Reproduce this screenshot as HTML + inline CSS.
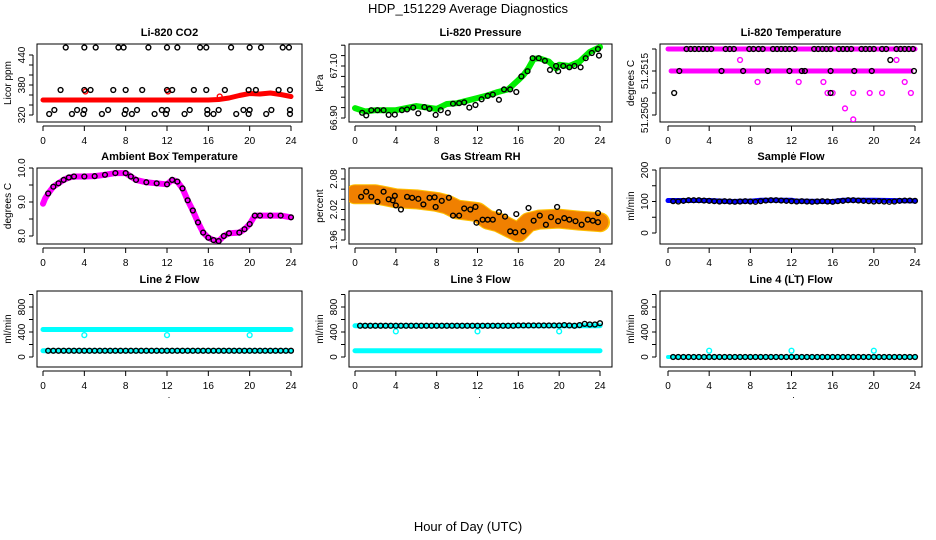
<!DOCTYPE html>
<html><head><meta charset="utf-8"><style>
html,body{margin:0;padding:0;background:#fff;}
svg{display:block;font-family:"Liberation Sans",sans-serif;}
</style></head><body>
<svg id="fig" width="936" height="540" viewBox="0 0 936 540">
<rect width="936" height="540" fill="#fff"/>
<text x="468" y="13" text-anchor="middle" font-size="13">HDP_151229  Average Diagnostics</text>
<text x="468" y="531" text-anchor="middle" font-size="13">Hour of Day (UTC)</text>
</svg>
<script>
// ---- data ----
const xTicks=[0,4,8,12,16,20,24];
// CO2
const co2Hours=[0,4,8,12,16,17,18,19,20,21,22,23,24];
const co2Vals=[350,350,350,350,350,351,354,359,363,362,364,361,357];
const co2BlackH=[2.2,4,5.1,7.3,7.8,10.2,12,13,15.2,15.8,18.2,20,21.1,23.2,23.8,1.7,4,4.6,6.8,8,9.6,12,12.5,14.6,15.8,17.6,19.9,20.6,22.8,23.9,1.1,3.3,4,6.3,8,9.1,11.5,12,14.2,15.9,17,19.4,20,22.1,23.9,0.6,2.8,3.9,5.7,7.9,8.6,10.8,11.9,13.7,15.9,16.5,18.7,19.9,21.6,23.9];
const co2BlackV=[455,455,455,455,455,455,455,455,455,455,455,455,455,455,455,370,370,370,370,370,370,370,370,370,370,370,370,370,370,370,330,330,330,330,330,330,330,330,330,330,330,330,330,330,330,322,322,322,322,322,322,322,322,322,322,322,322,322,322,322];
const co2RedH=[4.1,12.1,17.1];
const co2RedV=[367,367,357];
// Pressure
const presHours=[0,1,2,4,6,8,9,10,12,13,14,15,16,16.5,17,17.5,18,19,19.7,20,21,22,23,24];
const presVals=[66.938,66.925,66.93,66.93,66.946,66.935,66.954,66.957,66.977,66.987,67.0,67.01,67.046,67.065,67.092,67.127,67.13,67.117,67.09,67.105,67.1,67.117,67.154,67.173];
const presBlackH=[0.7,1.1,1.6,2.2,2.8,3.3,3.9,4.6,5.1,5.7,6.2,6.8,7.3,7.9,8.4,9.1,9.6,10.2,10.7,11.2,11.8,12.4,13,13.5,14.1,14.6,15.2,15.8,16.3,16.9,17.4,18,18.6,19.1,19.7,19.9,20.4,21,21.5,22.1,22.6,23.2,23.8,23.9];
const presBlackV=[66.92,66.91,66.93,66.93,66.93,66.912,66.913,66.93,66.933,66.94,66.918,66.942,66.935,66.912,66.93,66.92,66.955,66.957,66.96,66.94,66.95,66.972,66.985,66.99,66.97,67.01,67.01,67.0,67.06,67.08,67.13,67.13,67.12,67.085,67.1,67.08,67.1,67.095,67.1,67.095,67.13,67.15,67.165,67.14];
// Li-820 temperature
const tempPinkRowV=[51.2520,51.2515];
const tempPinkRowStart=[0,0.3];
const tempPinkRowEnd=[24,23.6];
const tempPinkH=[7,22.2,8.7,12.7,15.1,23,15.5,16,18,19.6,20.8,23.6,17.2,18];
const tempPinkV=[51.25175,51.25175,51.25125,51.25125,51.25125,51.25125,51.251,51.251,51.251,51.251,51.251,51.251,51.25065,51.2504];
const tempBlackTopH=[1.8,2.2,2.6,3,3.4,3.8,4.2,5.6,6,6.4,7.9,8.3,8.8,9.2,10.2,10.6,11,11.4,11.8,12.3,14.2,14.6,15,15.4,15.8,16.6,17,17.4,17.8,18.8,19.2,19.6,20,20.8,21.2,22.2,22.6,23,23.4,23.8];
const tempBlackMidH=[1.1,5.2,7.3,9.7,11.8,13,13.3,15.8,18.1,19.8,23.9];
const tempBlackOddH=[0.6,15.8,21.6];
const tempBlackOddV=[51.251,51.251,51.25175];
// Ambient box temperature
const ambHours=[0,0.2,0.5,1,1.5,2,2.5,3,4,5,6,7,8,8.5,9,10,11,12,12.5,13,13.5,14,14.5,15,15.5,16,16.5,17,17.5,18,19,19.5,20,20.5,21,22,23,24];
const ambVals=[8.95,9.1,9.25,9.45,9.55,9.65,9.72,9.75,9.75,9.76,9.8,9.85,9.85,9.75,9.65,9.58,9.55,9.52,9.65,9.6,9.4,9.05,8.75,8.4,8.1,7.95,7.88,7.85,8.0,8.08,8.1,8.2,8.35,8.6,8.6,8.6,8.6,8.55];
// Gas stream RH
const rhHours=[0,2,4,6,8,9,10,12,13,14,15,16,16.5,17,18,20,22,24];
const rhVals=[2.05,2.05,2.042,2.04,2.035,2.03,2.02,2.015,2.0,1.995,1.985,1.975,1.985,1.995,2.0,2.002,1.998,1.995];
const rhBlackH=[0.6,1.1,1.6,2.2,2.8,3.3,3.7,3.9,4,4.5,5.1,5.6,6.2,6.7,7.3,7.8,7.9,8.5,9.2,9.6,10.2,10.7,11.3,11.8,11.9,12.5,13,13.5,14.1,14.7,15.2,15.7,15.8,16.5,17,17.5,18.1,18.7,19.2,19.8,19.9,20.5,21,21.6,22.2,22.8,23.3,23.8,23.8];
const rhBlackV=[2.045,2.055,2.045,2.035,2.055,2.04,2.038,2.047,2.028,2.02,2.045,2.043,2.041,2.03,2.043,2.044,2.025,2.037,2.043,2.008,2.008,2.022,2.02,2.025,1.994,2.0,2.0,2.0,2.015,2.006,1.977,1.975,2.011,1.977,2.023,1.998,2.008,1.99,2.005,2.025,1.997,2.003,2.0,1.997,1.99,2.0,1.998,1.995,2.013];
// Sample flow
const sampHours=[0,4,6,8,9,12,12.5,16,17,20,24];
const sampVals=[103,103,100,101,104,104,101,100,104,104,102];
const sampBlack=[101,100,102,104,104,104,103,102,101,100,101,100,99,100,101,100,99,101,103,104,104,103,102,101,100,101,100,99,100,101,100,99,101,102,104,104,103,102,101,100,101,100,99,100,102,103,103,102];
// Line flows
const l2Cyan=[440,100];
const l2Black=[100,100,100,100,100,100,100,100,100,100,100,100,100,100,100,100,100,100,100,100,100,100,100,100,100,100,100,100,100,100,100,100,100,100,100,100,100,100,100,100,100,100,100,100,100,100,100,100];
const l2OutH=[4,12,20];
const l2OutV=[350,350,350];
const l3Cyan=[100,500];
const l3Black=[500,500,500,500,500,500,500,500,500,500,500,500,500,500,500,500,500,500,500,500,500,500,500,500,500,500,500,500,500,500,500,505,505,505,505,505,505,505,505,505,510,505,500,510,530,520,520,540];
const l3OutH=[4,12,20];
const l3OutV=[410,410,410];
const l4Cyan=[0];
const l4Black=[0,0,0,0,0,0,0,0,0,0,0,0,0,0,0,0,0,0,0,0,0,0,0,0,0,0,0,0,0,0,0,0,0,0,0,0,0,0,0,0,0,0,0,0,0,0,0,0];
const l4OutH=[4,12,20];
const l4OutV=[100,100,100];
// y-axis ticks / labels
const co2Ticks=[320,340,360,380,400,420,440], co2Labels=[320,380,440];
const presTicks=[66.90,66.94,66.98,67.02,67.06,67.10,67.14,67.18], presLabels=["66.90","67.10"], presLabelV=[66.90,67.10];
const tempTicks=[51.2505,51.2510,51.2515,51.2520], tempLabels=["51.2505","51.2515"], tempLabelV=[51.2505,51.2515];
const ambTicks=[8,8.5,9,9.5,10], ambLabels=["8.0","9.0","10.0"], ambLabelV=[8,9,10];
const rhTicks=[1.96,1.98,2.00,2.02,2.04,2.06,2.08,2.10], rhLabels=["1.96","2.02","2.08"], rhLabelV=[1.96,2.02,2.08];
const sampTicks=[0,50,100,150,200], sampLabels=[0,100,200];
const flowTicks=[0,200,400,600,800,1000], flowLabels=[0,400,800];

// ---- layout ----
const NS="http://www.w3.org/2000/svg";
const svg=document.getElementById('fig');
const cols=[{ax:33,x0:43,x24:291,right:302},{ax:345,x0:355,x24:600,right:612},{ax:656,x0:668,x24:915,right:922}];
const rows=[{top:44,bot:122},{top:168,bot:244},{top:291,bot:367}];
function mk(tag,attrs,parent){const e=document.createElementNS(NS,tag);for(const k in attrs)e.setAttribute(k,attrs[k]);(parent||svg).appendChild(e);return e;}

function panel(ci,ri,name,title,ylab,v0,y0,v1,y1,ticks,labelV,labels,showXLabels){
  const c=cols[ci],r=rows[ri];
  const g=mk('g',{});
  
  
  const xs=h=>c.x0+(c.x24-c.x0)*h/24;
  const ys=v=>y0+(y1-y0)*(v-v0)/(v1-v0);
  const box=mk('rect',{x:c.ax+4,y:r.top,width:c.right-c.ax-4,height:r.bot-r.top,fill:'none',stroke:'#000','stroke-width':1},g);
  
  
  const t=mk('text',{x:(c.ax+4+c.right)/2,y:r.top-8,'text-anchor':'middle','font-size':11,'font-weight':'bold'},g);
  t.textContent=title;
  
  
  const xa=mk('g',{},g);
  
  
  const ay=r.bot+4;
  mk('line',{x1:xs(0),x2:xs(24),y1:ay,y2:ay,stroke:'#000'},xa);
  xTicks.forEach(h=>{
    mk('line',{x1:xs(h),x2:xs(h),y1:ay,y2:ay+5,stroke:'#000'},xa);
    if(showXLabels){const tl=mk('text',{x:xs(h),y:r.bot+22,'text-anchor':'middle','font-size':10},xa);tl.textContent=h;}
  });
  const dot=mk('text',{x:xs(12)+2,y:r.bot+31,'text-anchor':'middle','font-size':9},xa);dot.textContent='.';
  const ya=mk('g',{},g);
  
  
  mk('line',{x1:c.ax,x2:c.ax,y1:ys(ticks[0]),y2:ys(ticks[ticks.length-1]),stroke:'#000'},ya);
  ticks.forEach(v=>mk('line',{x1:c.ax-4,x2:c.ax,y1:ys(v),y2:ys(v),stroke:'#000'},ya));
  labelV.forEach((v,i)=>{const yy=ys(v);const tl=mk('text',{x:c.ax-8,y:yy,'text-anchor':'middle','font-size':10,transform:`rotate(-90 ${c.ax-8} ${yy})`},ya);tl.textContent=labels[i];});
  const yt=mk('text',{x:c.ax-22,y:(r.top+r.bot)/2,'text-anchor':'middle','font-size':10,transform:`rotate(-90 ${c.ax-22} ${(r.top+r.bot)/2})`},g);
  yt.textContent=ylab;
  
  
  const clipId='clip'+ci+ri;
  const cp=mk('clipPath',{id:clipId},g);
  mk('rect',{x:c.ax+4,y:r.top,width:c.right-c.ax-4,height:r.bot-r.top},cp);
  const plot=mk('g',{'clip-path':`url(#${clipId})`},g);
  return {xs,ys,g:plot};
}
function band(p,hours,vals,color,w,name){
  const pts=hours.map((h,i)=>p.xs(h)+','+p.ys(vals[i])).join(' ');
  const l=mk('polyline',{points:pts,fill:'none',stroke:color,'stroke-width':w,'stroke-linejoin':'round','stroke-linecap':'round'},p.g);
  
  
  return l;
}
function pts(p,hours,vals,color,name){
  hours.forEach((h,i)=>{
    const c=mk('circle',{cx:p.xs(h),cy:p.ys(vals[i]),r:2.4,fill:'none',stroke:color,'stroke-width':1.4},p.g);
    
    
  });
}
const halfHours=l2Black.map((v,i)=>0.5*(i+1));

let p=panel(0,0,'co2','Li-820 CO2','Licor ppm',320,115,440,55,co2Ticks,co2Labels,co2Labels,true);
band(p,co2Hours,co2Vals,'#ff0000',5,'co2-red-series');
pts(p,co2RedH,co2RedV,'#ff0000','co2-red-point');
pts(p,co2BlackH,co2BlackV,'#000','co2-black-point');

p=panel(1,0,'pressure','Li-820 Pressure','kPa',66.90,118,67.10,66,presTicks,presLabelV,presLabels,true);
band(p,presHours,presVals,'#00ee00',6,'pressure-green-series');
pts(p,presBlackH,presBlackV,'#000','pressure-black-point');

p=panel(2,0,'li820-temp','Li-820 Temperature','degrees C',51.2505,115,51.2515,71,tempTicks,tempLabelV,tempLabels,true);
tempPinkRowV.forEach((v,i)=>band(p,[tempPinkRowStart[i],tempPinkRowEnd[i]],[v,v],'#ff00ff',5,'temp-magenta-series'));
pts(p,tempPinkH,tempPinkV,'#ff00ff','temp-magenta-point');
pts(p,tempBlackTopH,tempBlackTopH.map(()=>51.2520),'#000','temp-black-point');
pts(p,tempBlackMidH,tempBlackMidH.map(()=>51.2515),'#000','temp-black-point');
pts(p,tempBlackOddH,tempBlackOddV,'#000','temp-black-point');

p=panel(0,1,'ambient','Ambient Box Temperature','degrees C',8,236,10,168,ambTicks,ambLabelV,ambLabels,true);
band(p,ambHours,ambVals,'#ff00ff',6,'ambient-magenta-series');
pts(p,ambHours.slice(2),ambVals.slice(2),'#000','ambient-black-point');

p=panel(1,1,'rh','Gas Stream RH','percent',1.96,240,2.08,179,rhTicks,rhLabelV,rhLabels,true);
band(p,rhHours,rhVals,'#ffc000',20,'rh-orange-band');
const yb=band(p,rhHours,rhVals,'#f08000',18,'rh-dot-band');yb.setAttribute('stroke-dasharray','1 2.5');
pts(p,rhBlackH,rhBlackV,'#000','rh-black-point');

p=panel(2,1,'sample-flow','Sample Flow','ml/min',0,233,200,170,sampTicks,sampLabels,sampLabels,true);
band(p,sampHours,sampVals,'#0000ff',5,'sample-blue-series');
pts(p,halfHours,sampBlack,'#000','sample-black-point');

p=panel(0,2,'line2','Line 2 Flow','ml/min',0,357,800,307,flowTicks,flowLabels,flowLabels,true);
l2Cyan.forEach(v=>band(p,[0,24],[v,v],'#00ffff',5,'line2-cyan-series'));
pts(p,l2OutH,l2OutV,'#00ffff','line2-cyan-point');
pts(p,halfHours,l2Black,'#000','line2-black-point');

p=panel(1,2,'line3','Line 3 Flow','ml/min',0,357,800,307,flowTicks,flowLabels,flowLabels,true);
l3Cyan.forEach(v=>band(p,[0,24],[v,v],'#00ffff',5,'line3-cyan-series'));
pts(p,l3OutH,l3OutV,'#00ffff','line3-cyan-point');
pts(p,halfHours,l3Black,'#000','line3-black-point');

p=panel(2,2,'line4','Line 4 (LT) Flow','ml/min',0,357,800,307,flowTicks,flowLabels,flowLabels,true);
l4Cyan.forEach(v=>band(p,[0,24],[v,v],'#00ffff',4,'line4-cyan-series'));
pts(p,l4OutH,l4OutV,'#00ffff','line4-cyan-point');
pts(p,halfHours,l4Black,'#000','line4-black-point');
</script>
</body></html>
